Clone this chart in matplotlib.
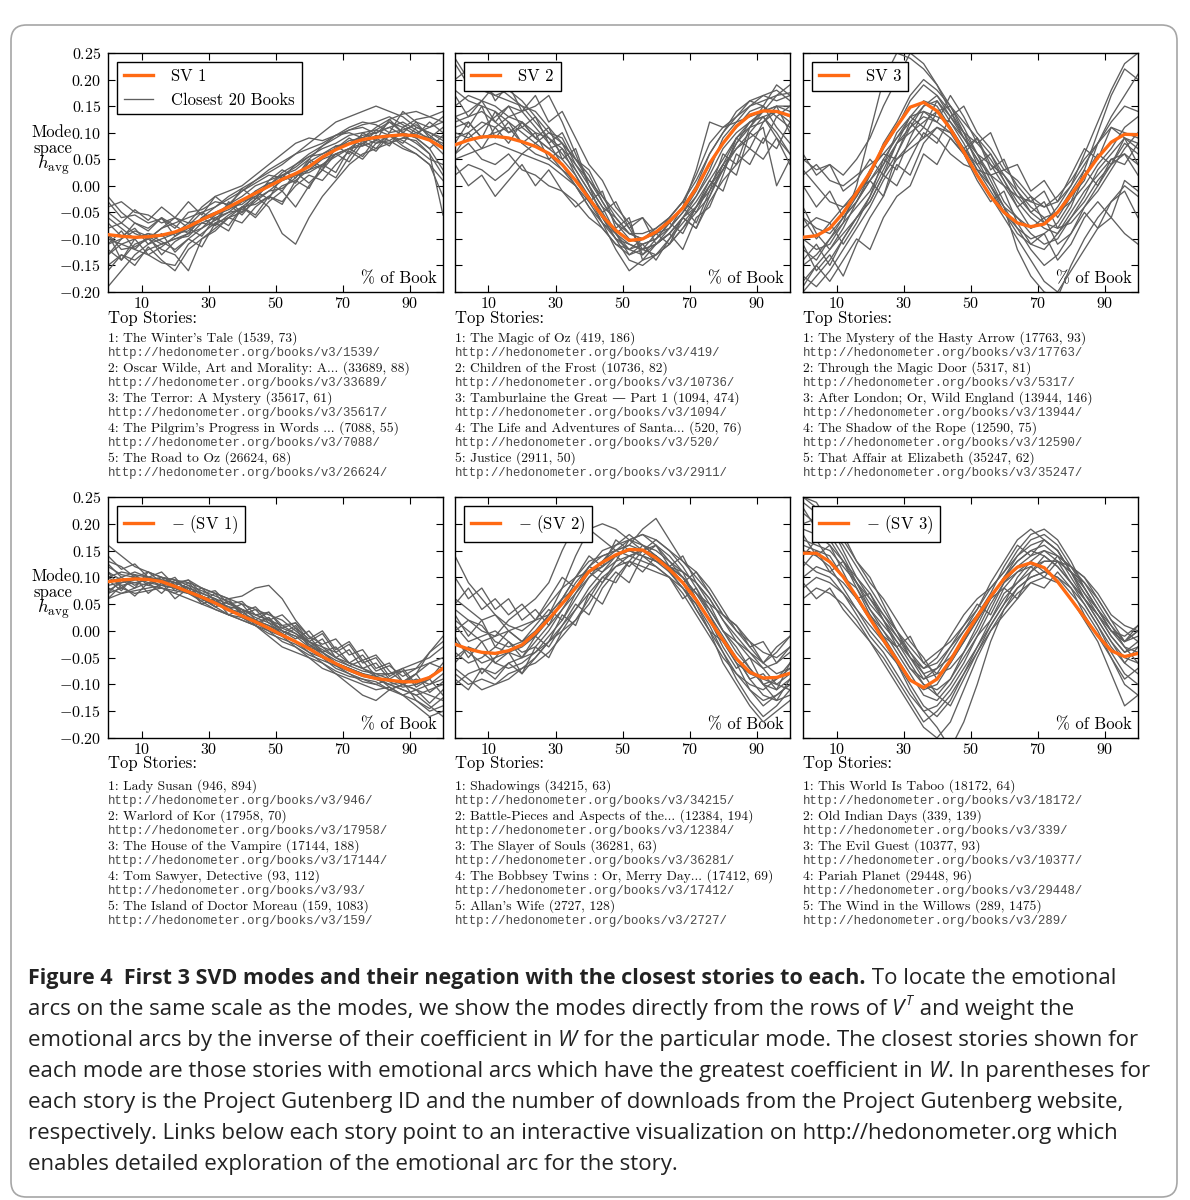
import matplotlib
matplotlib.use('Agg')
import matplotlib.pyplot as plt
from matplotlib.patches import FancyBboxPatch
from matplotlib.ticker import FixedLocator, FuncFormatter

W, H = 1190, 1200
plt.rcParams['mathtext.fontset'] = 'cm'

pct = list(range(0, 101, 4))

# singular vectors (orange), h_avg
sv1 = [-0.092, -0.095, -0.097, -0.096, -0.093, -0.087, -0.077, -0.064, -0.052, -0.040, -0.027, -0.014, -0.001,
       0.012, 0.023, 0.036, 0.054, 0.068, 0.079, 0.087, 0.091, 0.094, 0.096, 0.094, 0.086, 0.071]
sv2 = [0.077, 0.086, 0.092, 0.093, 0.090, 0.083, 0.074, 0.061, 0.040, 0.010, -0.024, -0.057, -0.084,
       -0.103, -0.100, -0.087, -0.067, -0.042, -0.005, 0.042, 0.080, 0.112, 0.133, 0.141, 0.140, 0.132]
sv3 = [-0.097, -0.094, -0.080, -0.051, -0.013, 0.025, 0.074, 0.112, 0.148, 0.157, 0.141, 0.107, 0.064,
       0.020, -0.020, -0.050, -0.070, -0.077, -0.072, -0.050, -0.017, 0.018, 0.053, 0.082, 0.097, 0.096]
neg_sv1 = [0.092, 0.095, 0.097, 0.096, 0.092, 0.083, 0.073, 0.063, 0.052, 0.039, 0.028, 0.017, 0.005,
           -0.008, -0.020, -0.033, -0.048, -0.061, -0.073, -0.083, -0.089, -0.092, -0.095, -0.095, -0.087, -0.070]
neg_sv2 = [-0.025, -0.034, -0.040, -0.042, -0.037, -0.026, -0.004, 0.022, 0.051, 0.080, 0.111, 0.128, 0.142,
           0.152, 0.151, 0.136, 0.115, 0.090, 0.058, 0.020, -0.017, -0.052, -0.077, -0.088, -0.087, -0.079]
neg_sv3 = [0.145, 0.145, 0.129, 0.101, 0.064, 0.023, -0.017, -0.054, -0.092, -0.106, -0.090, -0.055, -0.012,
           0.027, 0.064, 0.097, 0.119, 0.127, 0.118, 0.092, 0.059, 0.025, -0.009, -0.037, -0.048, -0.042]

# closest books for each mode, in thousandths of h_avg
books_sv1 = [
    [-30, -60, -55, -70, -62, -80, -50, -45, -30, -35, -10, 5, 20, 15, 40, 60, 75, 90, 105, 110, 98, 120, 110, 125, 130, 140],
    [-150, -130, -140, -120, -110, -100, -95, -70, -75, -55, -40, -35, -20, 0, 10, 30, 40, 60, 70, 80, 95, 85, 100, 90, 70, 30],
    [-100, -110, -120, -130, -145, -150, -110, -90, -70, -60, -50, -30, -10, -5, 15, 45, 60, 70, 85, 90, 100, 110, 95, 80, 60, -55],
    [-190, -160, -130, -110, -100, -90, -85, -60, -40, -20, -5, 10, 30, 45, 60, 70, 80, 95, 105, 115, 120, 130, 115, 100, 90, 80],
    [-60, -80, -100, -90, -105, -120, -100, -80, -65, -50, -45, -25, -10, 10, 20, 30, 50, 60, 70, 75, 85, 80, 90, 100, 110, 120],
    [-40, -30, -50, -55, -70, -60, -80, -70, -60, -50, -30, -20, -40, -90, -110, -60, -20, 10, 40, 60, 70, 80, 90, 85, 60, 20],
    [-120, -140, -110, -100, -120, -130, -160, -100, -80, -60, -40, -20, 0, 25, 40, 55, 70, 80, 95, 100, 105, 95, 85, 70, 50, 40],
    [-80, -70, -90, -100, -80, -70, -60, -50, -40, -25, -10, 10, 25, 40, 60, 80, 100, 120, 130, 140, 150, 140, 130, 110, 100, 90],
    [-110, -100, -85, -95, -110, -100, -90, -80, -55, -35, -20, 0, 10, 20, 35, 55, 60, 75, 80, 95, 100, 110, 120, 105, 85, 60],
    [-20, -50, -70, -80, -60, -75, -90, -60, -50, -40, -35, -15, 0, 20, 30, 50, 75, 95, 100, 90, 80, 85, 70, 60, 40, 10],
    [-130, -110, -100, -90, -95, -90, -70, -65, -55, -45, -30, -10, 5, 10, 20, 25, 40, 55, 70, 90, 110, 125, 135, 140, 130, 120],
    [-90, -120, -115, -100, -80, -60, -70, -40, -20, -10, 0, 20, 40, 60, 80, 90, 85, 95, 110, 120, 115, 100, 105, 115, 95, 75],
    [-70, -95, -80, -110, -90, -125, -100, -115, -70, -85, -40, -55, -20, -35, 10, -5, 40, 25, 70, 55, 90, 75, 110, 95, 120, 100],
    [-110, -85, -120, -95, -130, -105, -90, -60, -75, -30, -50, -10, -25, 20, 5, 45, 30, 75, 60, 100, 85, 125, 100, 120, 90, 110],
    [-160, -130, -150, -115, -140, -160, -120, -100, -85, -60, -70, -40, -20, -30, 0, 20, 10, 40, 65, 50, 80, 95, 80, 110, 100, 85],
    [-50, -70, -45, -65, -40, -60, -30, -55, -20, -40, -5, -25, 10, 30, 15, 50, 35, 70, 90, 75, 105, 120, 100, 90, 70, 95],
    [-130, -100, -70, -85, -60, -95, -75, -50, -65, -35, -55, -25, 5, -10, 25, 5, 30, 60, 45, 80, 65, 95, 75, 60, 40, -20],
    [-90, -140, -100, -130, -115, -95, -80, -95, -60, -75, -40, -60, -30, -10, -40, 0, 30, 15, 55, 85, 70, 100, 140, 120, 110, 130],
]
books_sv2 = [
    [240, 200, 180, 170, 160, 150, 120, 90, 60, 30, -10, -50, -90, -120, -130, -110, -90, -60, -20, 30, 90, 120, 150, 160, 170, 175],
    [150, 170, 160, 190, 170, 150, 140, 110, 80, 50, 20, -30, -70, -100, -110, -100, -70, -40, 0, 60, 100, 130, 150, 170, 180, 160],
    [60, 80, 50, 40, 60, 30, 20, 0, -10, -30, -60, -80, -110, -130, -120, -110, -90, -60, -30, 10, 50, 90, 120, 130, 100, 60],
    [120, 130, 140, 120, 100, 110, 90, 70, 50, 20, -20, -60, -100, -140, -150, -130, -100, -70, -40, 0, 40, 90, 110, 120, 140, 130],
    [100, 90, 110, 130, 150, 140, 110, 80, 40, 0, -40, -80, -110, -120, -100, -80, -60, -30, 10, 60, 100, 140, 160, 150, 130, 150],
    [20, 40, 30, 10, 30, 60, 80, 100, 90, 40, 0, -40, -60, -90, -100, -90, -80, -50, -20, 20, 70, 100, 120, 130, 90, 40],
    [180, 160, 150, 140, 120, 100, 80, 60, 30, 0, -40, -70, -100, -110, -120, -130, -110, -80, -50, -20, 30, 80, 120, 140, 150, 140],
    [90, 100, 120, 110, 130, 120, 100, 90, 70, 40, 10, -30, -70, -90, -90, -80, -60, -30, 20, 80, 110, 130, 160, 170, 160, 170],
    [130, 140, 160, 150, 130, 140, 150, 170, 120, 60, 0, -60, -100, -120, -110, -100, -80, -50, -10, 40, 80, 110, 140, 150, 110, 80],
    [50, 60, 70, 80, 70, 60, 50, 40, 20, 0, -30, -70, -120, -160, -140, -130, -110, -80, -40, -10, 30, 70, 100, 130, 140, 120],
    [200, 220, 190, 170, 180, 160, 130, 100, 80, 50, 10, -20, -60, -90, -100, -90, -70, -40, 30, 120, 110, 120, 130, 140, 150, 150],
    [110, 120, 90, 100, 110, 80, 60, 50, 30, 10, -20, -60, -90, -110, -120, -110, -90, -60, -40, 0, 40, 70, 90, 110, 0, 50],
    [170, 130, 160, 120, 150, 110, 130, 80, 100, 50, 30, -20, -50, -80, -120, -90, -110, -60, -80, -20, 40, 20, 100, 80, 130, 110],
    [80, 120, 90, 140, 100, 120, 90, 110, 50, 70, 0, -40, -90, -70, -130, -100, -70, -90, -40, 10, -10, 60, 40, 90, 70, 120],
    [40, 0, 20, -20, 10, 40, 0, 30, -10, -40, -20, -70, -90, -130, -110, -140, -100, -60, -80, -30, 10, 40, 70, 50, 90, 60],
    [230, 190, 210, 160, 190, 140, 170, 120, 140, 90, 40, 10, -40, -70, -60, -90, -60, -30, -50, 0, 30, 80, 110, 150, 190, 170],
    [60, 100, 70, 110, 80, 120, 90, 70, 80, 30, -10, -50, -30, -80, -60, -110, -80, -40, -70, -10, 60, 40, 110, 140, 170, 190],
    [130, 110, 150, 90, 120, 80, 100, 50, 70, 20, -30, -10, -80, -60, -140, -110, -90, -120, -60, -40, 20, 90, 70, 120, 150, 100],
]
books_sv3 = [
    [-180, -150, -120, -80, -30, 20, 80, 120, 170, 200, 180, 150, 110, 60, 20, -30, -60, -90, -110, -100, -60, -20, 30, 60, 90, 80],
    [50, 30, 40, 20, 50, 90, 150, 200, 250, 230, 190, 140, 90, 50, 0, -40, -80, -120, -150, -130, -90, -40, 0, 40, 80, 60],
    [-120, -140, -100, -70, -40, -10, 40, 100, 130, 140, 130, 120, 90, 60, 40, 20, -10, -40, -60, -50, -30, 0, 40, 70, 110, 130],
    [-60, -80, -90, -60, -20, 30, 60, 90, 120, 150, 170, 140, 100, 80, 50, 10, -30, -60, -80, -90, -60, -30, 10, 40, 60, 20],
    [-200, -170, -140, -100, -60, -20, 30, 80, 110, 130, 120, 100, 60, 20, -20, -60, -100, -140, -180, -200, -160, -120, -80, -60, -90, -110],
    [20, 40, 10, 0, 20, 40, 60, 50, 80, 110, 90, 60, 40, 30, 20, 30, 10, -20, -40, -30, 0, 40, 80, 120, 150, 140],
    [-100, -120, -110, -70, 0, 100, 200, 250, 240, 220, 190, 150, 100, 60, 10, -40, -60, -80, -70, -40, 0, 60, 120, 180, 230, 250],
    [-150, -130, -100, -60, -30, 10, 50, 90, 130, 160, 150, 110, 70, 30, 0, -50, -90, -110, -120, -90, -50, -10, 20, 50, 60, 40],
    [-80, -60, -70, -40, -10, 10, 40, 80, 100, 120, 140, 150, 120, 90, 60, 20, -20, -50, -70, -80, -70, -40, -10, 30, 70, 100],
    [-40, -90, -120, -90, -60, -30, 20, 60, 110, 150, 160, 120, 80, 30, -10, -50, -80, -100, -90, -70, -30, 30, 100, 170, 220, 200],
    [30, 0, -30, -40, -20, 20, 70, 110, 160, 190, 170, 130, 90, 50, 20, 0, -20, -30, -40, -20, 10, 50, 80, 110, 100, 90],
    [-170, -190, -160, -120, -80, -40, 10, 50, 70, 90, 110, 100, 70, 40, 0, -40, -120, -170, -200, -210, -150, -100, -60, -30, 0, -20],
    [-110, -160, -130, -170, -110, -60, -20, 40, 20, 80, 110, 90, 60, 90, 40, 0, -40, -20, -70, -50, -10, 30, 0, 50, 40, 80],
    [0, -40, -10, -60, -30, 10, -20, 60, 120, 90, 140, 110, 70, 90, 30, 50, -10, -50, -30, -80, -40, 20, 60, 40, 90, 70],
    [-140, -110, -150, -100, -60, -30, 20, 0, 50, 100, 80, 130, 100, 40, 60, 10, -40, -80, -60, -110, -90, -50, -80, -30, -10, -60],
    [60, 20, 40, -10, 10, 50, 20, 80, 130, 110, 160, 130, 150, 100, 70, 30, 40, -10, 10, -30, 20, 70, 50, 110, 90, 40],
    [-190, -150, -180, -140, -100, -120, -60, -20, 0, 60, 40, 90, 60, 10, -30, -10, -70, -110, -90, -140, -110, -60, -30, -60, 10, -10],
    [-60, -100, -70, -110, -70, -20, 50, 30, 90, 140, 120, 170, 130, 80, 100, 40, 0, -30, -10, -60, -20, 10, 80, 130, 170, 210],
]
books_neg_sv1 = [
    [160, 140, 120, 110, 100, 90, 80, 70, 60, 50, 40, 30, 20, 0, -10, -30, -40, -60, -70, -80, -90, -100, -110, -120, -140, -160],
    [70, 80, 70, 75, 80, 70, 60, 50, 40, 30, 20, 10, 0, -10, -20, -40, -50, -70, -80, -90, -100, -90, -100, -110, -100, -90],
    [100, 110, 105, 100, 95, 90, 80, 70, 60, 40, 30, 20, 10, -5, -20, -35, -50, -60, -70, -80, -90, -100, -95, -80, -40, -10],
    [120, 105, 100, 110, 100, 95, 90, 80, 70, 60, 50, 40, 30, 20, 0, -20, -40, -55, -65, -75, -80, -90, -100, -110, -120, -130],
    [80, 70, 80, 90, 85, 80, 70, 65, 50, 40, 30, 15, 5, -10, -30, -50, -70, -80, -90, -100, -110, -105, -120, -130, -150, -140],
    [60, 70, 75, 80, 85, 90, 95, 80, 70, 60, 65, 80, 85, 60, 20, -10, -40, -60, -70, -80, -85, -80, -70, -60, -50, -30],
    [90, 100, 110, 100, 90, 80, 75, 60, 45, 30, 20, 10, -10, -30, -40, -50, -60, -80, -100, -120, -130, -110, -100, -90, -100, -80],
    [110, 95, 90, 85, 80, 75, 70, 60, 50, 40, 35, 20, 10, 0, -10, -20, -30, -40, -60, -70, -85, -95, -105, -100, -90, -60],
    [130, 120, 100, 90, 95, 85, 75, 65, 55, 45, 25, 10, -5, -15, -25, -40, -60, -75, -85, -90, -95, -110, -120, -140, -160, -150],
    [85, 90, 95, 100, 95, 85, 75, 65, 55, 45, 40, 25, 15, 5, -5, -20, -35, -50, -60, -70, -80, -80, -75, -70, -60, -50],
    [75, 90, 100, 95, 85, 80, 70, 55, 40, 30, 25, 15, 0, -20, -30, -45, -55, -65, -80, -95, -100, -110, -100, -80, -60, -70],
    [100, 85, 90, 95, 100, 95, 85, 75, 65, 55, 40, 30, 20, 10, -5, -25, -45, -65, -75, -85, -90, -100, -110, -120, -110, -100],
    [110, 80, 100, 70, 90, 60, 80, 50, 60, 30, 40, 10, 25, -10, 5, -30, -15, -50, -35, -70, -60, -90, -75, -105, -90, -120],
    [60, 85, 65, 90, 70, 95, 75, 55, 70, 40, 50, 20, 35, 5, 15, -20, -5, -40, -25, -60, -50, -85, -70, -100, -85, -70],
    [140, 115, 125, 100, 110, 85, 95, 70, 75, 50, 55, 30, 35, 10, 15, -10, -25, -15, -45, -35, -70, -60, -95, -80, -115, -95],
    [95, 75, 105, 85, 100, 75, 90, 65, 45, 55, 35, 45, 20, 30, 5, -15, 0, -35, -20, -55, -45, -75, -95, -130, -145, -125],
    [70, 95, 80, 110, 90, 100, 70, 80, 55, 60, 30, 40, 15, -5, 10, -25, -40, -30, -60, -45, -75, -65, -85, -70, -40, -20],
    [125, 100, 85, 100, 80, 70, 85, 60, 45, 55, 30, 15, 25, 0, -15, 0, -30, -50, -65, -55, -85, -105, -120, -110, -135, -110],
]
books_neg_sv2 = [
    [140, 90, 60, 30, 0, -20, -10, 30, 80, 140, 190, 200, 190, 170, 160, 140, 110, 80, 40, 0, -40, -80, -110, -130, -120, -100],
    [-20, -40, -60, -50, -40, -30, -10, 20, 50, 90, 120, 150, 160, 170, 180, 160, 130, 100, 70, 30, -10, -50, -90, -120, -130, -120],
    [20, 0, -20, -10, 0, 10, 20, 30, 60, 100, 130, 140, 150, 140, 150, 140, 120, 110, 90, 60, 20, -20, -50, -70, -60, -40],
    [-80, -100, -90, -100, -80, -70, -50, -20, 10, 40, 70, 100, 120, 130, 120, 110, 100, 80, 50, 10, -40, -90, -130, -160, -140, -110],
    [60, 40, 20, 30, 10, 0, 20, 50, 80, 100, 110, 120, 140, 150, 140, 130, 120, 100, 70, 40, 0, -20, -40, -60, -40, -10],
    [-50, -30, -40, -60, -70, -60, -40, -10, 20, 60, 100, 130, 150, 170, 180, 170, 150, 120, 80, 40, 0, -40, -70, -100, -110, -90],
    [10, -20, -10, 0, -20, -40, -30, 0, 40, 80, 120, 140, 150, 160, 190, 210, 170, 130, 100, 70, 30, 0, -30, -60, -80, -70],
    [-100, -80, -70, -80, -60, -50, -20, 10, 40, 70, 100, 120, 140, 150, 140, 130, 110, 80, 50, 0, -60, -100, -140, -170, -150, -130],
    [0, 20, 10, -20, -30, -20, 0, 30, 60, 80, 110, 130, 160, 180, 160, 150, 130, 110, 90, 60, 20, -10, -40, -70, -100, -80],
    [-40, -60, -50, -30, -40, -50, -40, -20, 0, 40, 80, 110, 130, 140, 130, 120, 100, 70, 30, -10, -50, -80, -100, -110, -90, -70],
    [40, 20, 0, -10, 20, 40, 60, 90, 150, 200, 190, 170, 150, 160, 150, 130, 120, 100, 70, 50, 30, 10, -20, -40, -50, -30],
    [-70, -90, -110, -100, -90, -70, -60, -40, -10, 20, 50, 90, 120, 140, 150, 140, 120, 100, 60, 20, -20, -60, -80, -90, -100, -110],
    [100, 60, 80, 40, 60, 20, 40, 10, 60, 100, 140, 120, 170, 150, 140, 160, 120, 140, 90, 50, 0, -30, -70, -100, -90, -60],
    [-60, -30, -80, -50, -20, -50, -10, -30, 10, 50, 30, 80, 110, 90, 140, 120, 100, 60, 80, 30, -20, -60, -110, -140, -120, -100],
    [-10, -50, -20, -60, -40, -80, -50, -20, 30, 10, 70, 50, 100, 130, 110, 140, 120, 90, 110, 70, 30, 10, -30, -20, -60, -30],
    [30, -10, 20, -30, 0, -20, 10, 40, 20, 70, 110, 90, 130, 170, 150, 160, 140, 110, 60, 20, -30, -70, -50, -100, -130, -90],
    [-90, -110, -70, -90, -60, -80, -30, -50, 0, 20, 60, 100, 90, 130, 160, 140, 110, 90, 40, 0, -20, -50, -90, -80, -110, -60],
    [50, 80, 40, 60, 30, 50, 20, 60, 100, 80, 120, 110, 140, 120, 150, 170, 150, 130, 110, 80, 40, 0, -20, -60, -30, -10],
]
books_neg_sv3 = [
    [250, 230, 200, 150, 100, 60, 20, -20, -60, -100, -110, -90, -40, 10, 60, 100, 130, 150, 160, 140, 100, 60, 20, -20, -50, -60],
    [200, 210, 180, 140, 90, 40, 0, -40, -80, -120, -130, -100, -60, -10, 40, 90, 120, 140, 150, 130, 110, 80, 40, 0, -30, -40],
    [100, 120, 110, 90, 60, 30, 0, -30, -70, -90, -80, -40, 0, 40, 80, 110, 140, 160, 170, 150, 110, 70, 30, -10, -40, -30],
    [150, 140, 120, 80, 40, 0, -30, -60, -100, -140, -160, -130, -80, -30, 20, 60, 90, 110, 130, 130, 110, 90, 50, 10, -30, -60],
    [220, 200, 170, 130, 80, 40, 10, -20, -50, -70, -50, -10, 30, 60, 80, 110, 150, 180, 190, 170, 130, 80, 40, 0, -20, 0],
    [80, 100, 90, 70, 40, 10, -20, -60, -110, -150, -180, -220, -170, -100, -20, 40, 80, 100, 110, 100, 80, 50, 10, -40, -80, -100],
    [170, 160, 150, 120, 90, 60, 30, 0, -40, -70, -60, -30, 0, 30, 60, 100, 140, 170, 180, 160, 120, 80, 40, 0, -10, 10],
    [130, 110, 100, 70, 30, -10, -40, -80, -120, -150, -140, -110, -70, -30, 10, 50, 80, 100, 110, 100, 70, 40, 0, -50, -100, -120],
    [240, 220, 190, 160, 120, 80, 40, 0, -30, -60, -80, -70, -40, 0, 50, 90, 110, 120, 130, 130, 120, 100, 60, 20, 0, -20],
    [60, 80, 70, 50, 20, -20, -60, -100, -140, -180, -200, -170, -110, -50, 0, 40, 70, 90, 100, 90, 60, 20, -20, -80, -140, -120],
    [190, 180, 160, 130, 100, 70, 30, -10, -50, -80, -70, -50, -20, 20, 60, 100, 130, 150, 140, 120, 90, 60, 30, 0, -20, -10],
    [160, 150, 140, 100, 60, 20, -10, -50, -90, -110, -100, -60, -20, 20, 60, 80, 110, 130, 150, 140, 120, 100, 70, 30, 10, 0],
    [230, 190, 210, 170, 130, 90, 60, 20, -20, -50, -90, -60, -20, 30, 70, 120, 160, 140, 170, 150, 110, 60, 30, -10, -40, -20],
    [120, 150, 110, 130, 90, 50, 20, -10, -40, -80, -120, -140, -90, -40, 10, 50, 100, 130, 110, 140, 120, 90, 60, 20, -20, 0],
    [180, 140, 160, 110, 60, 70, 20, -30, -10, -60, -40, -20, 10, 50, 30, 80, 60, 110, 140, 120, 90, 50, 10, -30, -60, -30],
    [250, 240, 200, 180, 130, 100, 50, 0, -50, -90, -70, -30, 10, 40, 90, 130, 170, 190, 170, 150, 110, 70, 40, 10, -20, 10],
    [90, 60, 80, 40, 10, -20, -50, -90, -130, -170, -150, -120, -80, -40, 0, 30, 60, 90, 80, 110, 80, 30, -10, -50, -90, -70],
    [140, 170, 130, 100, 80, 30, -10, -30, -70, -100, -120, -90, -50, -10, 20, 70, 90, 120, 100, 130, 90, 60, 20, -20, -60, -80],
]

# (title, Gutenberg ID, downloads)
stories_sv1 = [("The Winter's Tale", 1539, 73), ("Oscar Wilde, Art and Morality: A...", 33689, 88),
               ("The Terror: A Mystery", 35617, 61), ("The Pilgrim's Progress in Words ...", 7088, 55),
               ("The Road to Oz", 26624, 68)]
stories_sv2 = [("The Magic of Oz", 419, 186), ("Children of the Frost", 10736, 82),
               ("Tamburlaine the Great \u2014 Part 1", 1094, 474), ("The Life and Adventures of Santa...", 520, 76),
               ("Justice", 2911, 50)]
stories_sv3 = [("The Mystery of the Hasty Arrow", 17763, 93), ("Through the Magic Door", 5317, 81),
               ("After London; Or, Wild England", 13944, 146), ("The Shadow of the Rope", 12590, 75),
               ("That Affair at Elizabeth", 35247, 62)]
stories_neg_sv1 = [("Lady Susan", 946, 894), ("Warlord of Kor", 17958, 70), ("The House of the Vampire", 17144, 188),
                   ("Tom Sawyer, Detective", 93, 112), ("The Island of Doctor Moreau", 159, 1083)]
stories_neg_sv2 = [("Shadowings", 34215, 63), ("Battle-Pieces and Aspects of the...", 12384, 194),
                   ("The Slayer of Souls", 36281, 63), ("The Bobbsey Twins : Or, Merry Day...", 17412, 69),
                   ("Allan's Wife", 2727, 128)]
stories_neg_sv3 = [("This World Is Taboo", 18172, 64), ("Old Indian Days", 339, 139), ("The Evil Guest", 10377, 93),
                   ("Pariah Planet", 29448, 96), ("The Wind in the Willows", 289, 1475)]

mode_labels = ['SV 1', 'SV 2', 'SV 3', '$-$ (SV 1)', '$-$ (SV 2)', '$-$ (SV 3)']
modes = [sv1, sv2, sv3, neg_sv1, neg_sv2, neg_sv3]
books = [books_sv1, books_sv2, books_sv3, books_neg_sv1, books_neg_sv2, books_neg_sv3]
stories = [stories_sv1, stories_sv2, stories_sv3, stories_neg_sv1, stories_neg_sv2, stories_neg_sv3]

y_ticks = [-0.20, -0.15, -0.10, -0.05, 0.00, 0.05, 0.10, 0.15, 0.20, 0.25]
x_ticks = [10, 30, 50, 70, 90]

ORANGE = '#ff6a13'
GRAY = '#5f5f5f'
SERIF = ['cmr10', 'DejaVu Serif']

fig = plt.figure(figsize=(W / 100, H / 100), dpi=100)


def fx(x):
    return x / W


def fy(y):
    return 1 - y / H


# rounded frame round the whole figure
fig.patches.append(FancyBboxPatch((fx(11), fy(1197)), fx(1166), (1197 - 25) / H,
                                  boxstyle='round,pad=0,rounding_size=0.013',
                                  transform=fig.transFigure, fc='none', ec='#a6a6a6', lw=1.2))

lefts = [108, 455, 803]
tops = [53, 497]
heights = [239, 241]
text_tops = [318, 763]
first_item = [338, 786]

for i in range(6):
    row, col = divmod(i, 3)
    ax = fig.add_axes([fx(lefts[col]), fy(tops[row] + heights[row]), 335 / W, heights[row] / H])
    for k, b in enumerate(books[i]):
        ax.plot(pct, [v / 1000 for v in b], color=GRAY, lw=0.95, zorder=2,
                label='Closest 20 Books' if (i == 0 and k == 0) else None)
    ax.plot(pct, modes[i], color=ORANGE, lw=2.4, zorder=3, label=mode_labels[i])
    h, l = ax.get_legend_handles_labels()
    order = [len(h) - 1] + list(range(len(h) - 1))
    leg = ax.legend([h[j] for j in order], [l[j] for j in order], loc='upper left',
                    prop={'family': SERIF, 'size': 12}, fancybox=False, framealpha=1,
                    edgecolor='black', handlelength=1.75, handletextpad=1.1,
                    borderpad=0.4, labelspacing=0.5, borderaxespad=0.55)
    leg.get_frame().set_linewidth(1.0)
    leg.set_zorder(5)

    ax.set_xlim(0, 100)
    ax.set_ylim(-0.20, 0.25)
    ax.xaxis.set_major_locator(FixedLocator(x_ticks))
    ax.yaxis.set_major_locator(FixedLocator(y_ticks))
    ax.xaxis.set_major_formatter(FuncFormatter(lambda v, p: f'${v:.0f}$'))
    ax.yaxis.set_major_formatter(FuncFormatter(lambda v, p: f'${v:.2f}$'))
    ax.tick_params(direction='in', length=5, width=0.8, top=True, right=True, labelsize=11.5)
    ax.tick_params(axis='x', pad=3)
    ax.tick_params(axis='y', pad=5)
    if col > 0:
        ax.tick_params(labelleft=False)
    else:
        # y label sits left of the tick labels, written horizontally
        y0 = tops[row] + 79
        fig.text(fx(52), fy(y0), 'Mode', ha='center', va='center', fontsize=12, family=SERIF)
        fig.text(fx(53), fy(y0 + 16), 'space', ha='center', va='center', fontsize=12, family=SERIF)
        fig.text(fx(53), fy(y0 + 37), '$h_{\\rm avg}$', ha='center', va='baseline', fontsize=13.5)
    for s in ax.spines.values():
        s.set_linewidth(1.0)
    ax.text(0.982, 0.022, '% of Book', transform=ax.transAxes, ha='right', va='bottom',
            fontsize=12, family=SERIF, zorder=1)

    x0 = fx(lefts[col])
    fig.text(x0, fy(text_tops[row]), 'Top Stories:', ha='left', va='center', fontsize=12, family=SERIF)
    for n, (title, gid, dl) in enumerate(stories[i]):
        yy = first_item[row] + 30 * n
        fig.text(x0, fy(yy), f'{n + 1}: {title} ({gid}, {dl})', ha='left', va='center',
                 fontsize=9.8, family=SERIF, color='#111111')
        fig.text(x0, fy(yy + 15), f'http://hedonometer.org/books/v3/{gid}/', ha='left', va='center',
                 fontsize=8.9, family='Liberation Mono', color='#4a4a4a')

# caption, written run by run so bold / italic parts follow each other
cap_lines = [
    [('Figure 4  First 3 SVD modes and their negation with the closest stories to each.', 'b'),
     (' To locate the emotional', 'r')],
    [('arcs on the same scale as the modes, we show the modes directly from the rows of ', 'r'), ('V', 'i'),
     ('T', 'sup'), (' and weight the', 'r')],
    [('emotional arcs by the inverse of their coefficient in ', 'r'), ('W', 'i'),
     (' for the particular mode. The closest stories shown for', 'r')],
    [('each mode are those stories with emotional arcs which have the greatest coefficient in ', 'r'), ('W', 'i'),
     ('. In parentheses for', 'r')],
    [('each story is the Project Gutenberg ID and the number of downloads from the Project Gutenberg website,', 'r')],
    [('respectively. Links below each story point to an interactive visualization on http://hedonometer.org which', 'r')],
    [('enables detailed exploration of the emotional arc for the story.', 'r')],
]
CAP_FONT = 'Open Sans'
CAP_SIZE = 16.0
BOLD_SIZE = 15.5
renderer = fig.canvas.get_renderer()
for n, runs in enumerate(cap_lines):
    base = 984 + 31 * n
    x = 28
    for s, kind in runs:
        kw = dict(family=CAP_FONT, fontsize=CAP_SIZE, color='#222222', ha='left', va='baseline')
        yy = base
        if kind == 'b':
            kw['weight'] = 'bold'
            kw['fontsize'] = BOLD_SIZE
        elif kind == 'i':
            kw['style'] = 'italic'
        elif kind == 'sup':
            kw['style'] = 'italic'
            kw['fontsize'] = CAP_SIZE * 0.62
            yy = base - 10
        t = fig.text(fx(x), fy(yy), s, **kw)
        x += t.get_window_extent(renderer).width + (1 if kind in ('i', 'sup') else 0)

fig.savefig('out.png', dpi=100)
